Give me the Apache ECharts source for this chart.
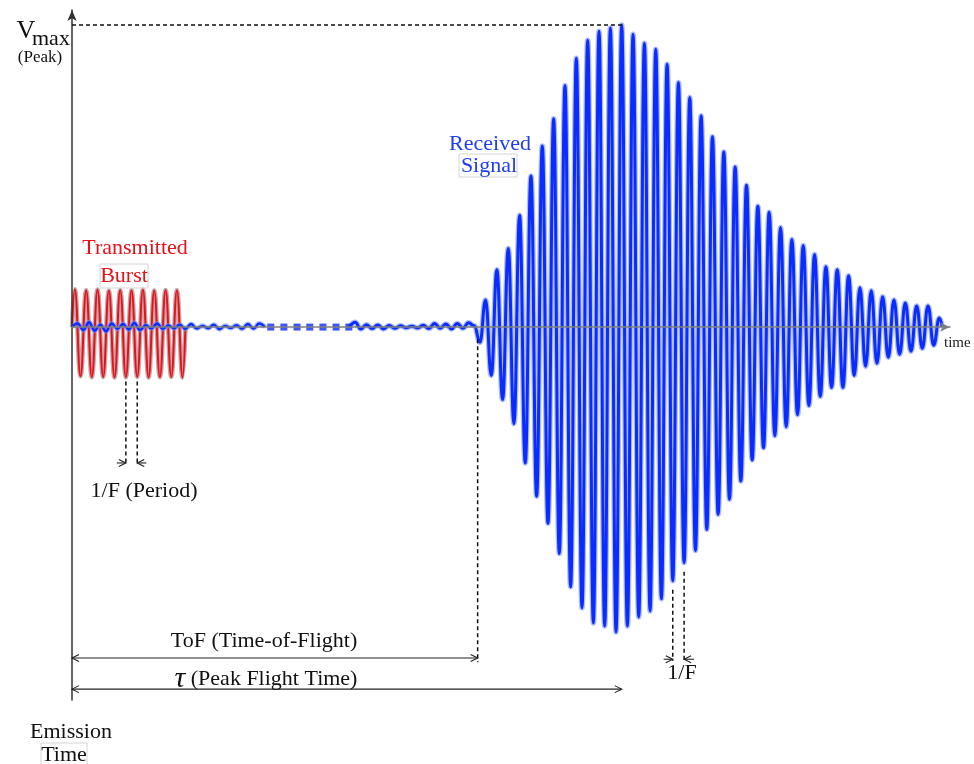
<!DOCTYPE html>
<html>
<head>
<meta charset="utf-8">
<title>Ultrasonic burst and received echo</title>
<script src="https://cdn.jsdelivr.net/npm/echarts@6/dist/echarts.min.js"></script>
<style>
  html, body { margin: 0; padding: 0; background: #ffffff; }
  #chart { width: 974px; height: 764px; }
</style>
</head>
<body>
<div id="chart"></div>
<script>
// ---- Time base (µs): 40 kHz carrier, extremes every half period ----
const HALF_PERIOD = 12.5;
const TIME_MAX = 1935;

// Transmitted burst: alternating crest / trough amplitudes (normalised to Vmax)
const TX_START = 6.25;
const TX_EXTREMES = [0.125, -0.163, 0.122, -0.166, 0.124, -0.165, 0.121, -0.167, 0.123, -0.166,
                     0.122, -0.165, 0.124, -0.167, 0.121, -0.166, 0.123, -0.165, 0.122, -0.167];

// Background noise on the receiver before the echo arrives
const NOISE_A = [0, 0.012, -0.010, 0.016, -0.012, 0.008, -0.014, 0.012, -0.006, 0.010, -0.008, 0.014,
                 -0.010, 0.006, -0.004, 0.012, -0.006, 0.005, -0.004, 0.008, -0.006, 0.010, -0.005,
                 0.004, -0.004, 0.008, -0.007, 0.004, -0.003, 0.006, -0.006, 0.010, -0.005, 0.012, 0];
const NOISE_B_START = 611.5;
const NOISE_B = [0, 0.016, -0.006, 0.008, -0.005, 0.007, -0.006, 0.005, -0.004, 0.004, -0.002, 0.003,
                 -0.003, 0.006, -0.005, 0.012, -0.004, 0.010, -0.006, 0.012, -0.004, 0.014, 0.004];

// Time gap marker (skipped stretch of the noise floor)
const GAP_MARKS = [438, 467, 496, 524, 553, 582, 610];

// Received echo: trough depths and crest heights, one pair per carrier cycle
const RX_START = 899;
const RX_TROUGHS = [0.05, 0.16, 0.24, 0.32, 0.45, 0.56, 0.65, 0.75, 0.86, 0.93, 0.98, 0.99, 1.01, 0.99,
                    0.96, 0.94, 0.90, 0.84, 0.78, 0.74, 0.67, 0.62, 0.57, 0.51, 0.44, 0.40, 0.36, 0.33,
                    0.29, 0.26, 0.23, 0.20, 0.20, 0.16, 0.13, 0.12, 0.10, 0.09, 0.08, 0.07, 0.06];
const RX_PEAKS   = [0.09, 0.19, 0.26, 0.37, 0.50, 0.60, 0.69, 0.80, 0.89, 0.95, 0.98, 0.99, 1.00, 0.97,
                    0.94, 0.92, 0.87, 0.81, 0.76, 0.70, 0.63, 0.58, 0.53, 0.47, 0.40, 0.38, 0.33, 0.29,
                    0.27, 0.24, 0.20, 0.19, 0.17, 0.13, 0.12, 0.10, 0.09, 0.08, 0.07, 0.07, 0.03];

// Key instants (µs)
const TOF = 894;          // first arrival of the echo
const V_MAX = 1.0;

// ---- Build series data ----
const txData = [[0, 0]];
TX_EXTREMES.forEach((v, i) => txData.push([TX_START + i * HALF_PERIOD, v]));
txData.push([TX_START + (TX_EXTREMES.length - 0.5) * HALF_PERIOD, 0]);

const noiseAData = NOISE_A.map((v, i) => [i * HALF_PERIOD, v]);

const rxData = NOISE_B.map((v, i) => [NOISE_B_START + i * HALF_PERIOD, v]);
RX_TROUGHS.forEach((d, i) => {
  rxData.push([RX_START + (2 * i) * HALF_PERIOD, -d]);
  rxData.push([RX_START + (2 * i + 1) * HALF_PERIOD, RX_PEAKS[i]]);
});
const rxEnd = RX_START + (2 * RX_TROUGHS.length - 0.5) * HALF_PERIOD;
rxData.push([rxEnd, 0]);

// Peak flight time: instant of the largest crest
let peakIdx = 0;
RX_PEAKS.forEach((v, i) => { if (v > RX_PEAKS[peakIdx]) peakIdx = i; });
const TAU = RX_START + (2 * peakIdx + 1) * HALF_PERIOD;

// Periods marked on the burst and on the echo (two successive troughs)
const TX_PERIOD_A = TX_START + 9 * HALF_PERIOD;
const TX_PERIOD_B = TX_START + 11 * HALF_PERIOD;
const RX_PERIOD_A = RX_START + 34 * HALF_PERIOD;
const RX_PERIOD_B = RX_START + 36 * HALF_PERIOD;

const SERIF = "'Liberation Serif', 'Times New Roman', 'DejaVu Serif', serif";
const BLUE = '#0a2cff';
const RED = '#e8101a';

const chart = echarts.init(document.getElementById('chart'), null, { renderer: 'canvas' });

chart.setOption({
  animation: false,
  backgroundColor: '#ffffff',
  grid: { left: 72, right: 24, top: 10, bottom: 64 },
  xAxis: {
    type: 'value', min: 0, max: TIME_MAX, z: 10,
    name: 'time', nameLocation: 'end', nameGap: -6,
    nameTextStyle: { fontFamily: SERIF, fontSize: 15, color: '#222', align: 'left',
                     verticalAlign: 'top', padding: [8, 0, 0, 0] },
    axisLine: { onZero: true, symbol: ['none', 'arrow'], symbolSize: [7, 10],
                lineStyle: { color: '#808080', width: 1.6 } },
    axisTick: { show: false }, axisLabel: { show: false }, splitLine: { show: false }
  },
  yAxis: {
    type: 'value', min: -1.235, max: 1.05, z: 10,
    axisLine: { show: true, symbol: ['none', 'arrow'], symbolSize: [7, 11],
                lineStyle: { color: '#333333', width: 1.5 } },
    axisTick: { show: false }, axisLabel: { show: false }, splitLine: { show: false }
  },
  series: [
    { name: 'burst-halo', type: 'line', data: txData, smooth: 0.45, smoothMonotone: 'x',
      showSymbol: false, silent: true, z: 2,
      lineStyle: { color: 'rgba(150,95,95,0.55)', width: 4.5 } },
    { name: 'Transmitted Burst', type: 'line', data: txData, smooth: 0.45, smoothMonotone: 'x',
      showSymbol: false, z: 3, lineStyle: { color: RED, width: 2 } },
    { name: 'noise-halo', type: 'line', data: noiseAData, smooth: 0.45, smoothMonotone: 'x',
      showSymbol: false, silent: true, z: 4,
      lineStyle: { color: 'rgba(120,145,255,0.6)', width: 5 } },
    { name: 'Noise', type: 'line', data: noiseAData, smooth: 0.45, smoothMonotone: 'x',
      showSymbol: false, z: 5, lineStyle: { color: BLUE, width: 2.4 } },
    { name: 'echo-halo', type: 'line', data: rxData, smooth: 0.45, smoothMonotone: 'x',
      showSymbol: false, silent: true, z: 4,
      lineStyle: { color: 'rgba(120,145,255,0.6)', width: 5.5 } },
    { name: 'Received Signal', type: 'line', data: rxData, smooth: 0.45, smoothMonotone: 'x',
      showSymbol: false, z: 5, lineStyle: { color: BLUE, width: 3 } },
    { name: 'gap', type: 'scatter', data: GAP_MARKS.map(t => [t, 0]), symbol: 'rect',
      symbolSize: 7, z: 6, itemStyle: { color: BLUE } }
  ]
});

// ---- Annotations placed through the axis scales ----
const P = (t, v) => chart.convertToPixel({ gridIndex: 0 }, [t, v]);
const INK = '#222222';

function dashed(a, b) {
  return { type: 'line', z: 20, shape: { x1: a[0], y1: a[1], x2: b[0], y2: b[1] },
           style: { stroke: '#111', lineWidth: 1.5, lineDash: [4, 3] } };
}
function solid(a, b) {
  return { type: 'line', z: 20, shape: { x1: a[0], y1: a[1], x2: b[0], y2: b[1] },
           style: { stroke: INK, lineWidth: 1.1 } };
}
function head(p, dir) {
  return { type: 'polyline', z: 20,
           shape: { points: [[p[0] - dir * 7, p[1] - 3.5], [p[0], p[1]], [p[0] - dir * 7, p[1] + 3.5]] },
           style: { stroke: INK, lineWidth: 1.1, fill: null } };
}
function label(text, x, y, color, size, extra) {
  return Object.assign({ type: 'text', z: 30, x: x, y: y,
    style: { text: text, fill: color || '#111', font: (size || 22) + 'px ' + SERIF,
             textAlign: 'center', textVerticalAlign: 'middle' } }, extra || {});
}
function box(x, y, w, h) {
  return { type: 'rect', z: 25, shape: { x: x, y: y, width: w, height: h },
           style: { fill: null, stroke: '#d4d4d4', lineWidth: 1 } };
}

const els = [];
// Vmax reference line
els.push(dashed(P(0, V_MAX), P(TAU, V_MAX)));
// Time-of-flight marker
const yTof = -1.096, yTau = -1.199;
els.push(dashed(P(TOF, -0.04), P(TOF, -1.11)));
els.push(solid(P(0, yTof), P(TOF, yTof)), head(P(0, yTof), -1), head(P(TOF, yTof), 1));
// Peak flight time marker
els.push(solid(P(0, yTau), P(TAU, yTau)), head(P(0, yTau), -1), head(P(TAU, yTau), 1));
// Period of the burst
const yTxArr = -0.45;
els.push(dashed(P(TX_PERIOD_A, -0.18), P(TX_PERIOD_A, -0.455)));
els.push(dashed(P(TX_PERIOD_B, -0.18), P(TX_PERIOD_B, -0.455)));
els.push(solid(P(TX_PERIOD_A - 20, yTxArr), P(TX_PERIOD_A, yTxArr)), head(P(TX_PERIOD_A, yTxArr), 1));
els.push(solid(P(TX_PERIOD_B + 20, yTxArr), P(TX_PERIOD_B, yTxArr)), head(P(TX_PERIOD_B, yTxArr), -1));
// Period of the echo
const yRxArr = -1.100;
els.push(dashed(P(RX_PERIOD_A, -0.87), P(RX_PERIOD_A, -1.105)));
els.push(dashed(P(RX_PERIOD_B, -0.81), P(RX_PERIOD_B, -1.105)));
els.push(solid(P(RX_PERIOD_A - 20, yRxArr), P(RX_PERIOD_A, yRxArr)), head(P(RX_PERIOD_A, yRxArr), 1));
els.push(solid(P(RX_PERIOD_B + 22, yRxArr), P(RX_PERIOD_B, yRxArr)), head(P(RX_PERIOD_B, yRxArr), -1));

// Text
els.push(label('V', 26, 31, '#111', 26));
els.push({ type: 'text', z: 30, x: 32, y: 39,
           style: { text: 'max', fill: '#111', font: '22px ' + SERIF, textAlign: 'left', textVerticalAlign: 'middle' } });
els.push(label('(Peak)', 40, 58, '#111', 17));
els.push(label('Transmitted', 135, 248, RED));
els.push(label('Burst', 124, 276, RED));
els.push(box(100, 264, 48, 24));
els.push(label('Received', 490, 144, '#1e3ef0'));
els.push(label('Signal', 489, 166, '#1e3ef0'));
els.push(box(459, 154, 58, 23));
els.push(label('ToF (Time-of-Flight)', 264, 641, '#111'));
els.push({ type: 'text', z: 30, x: 266, y: 679,
           style: { text: '{t|τ} (Peak Flight Time)', fill: '#111', font: '22px ' + SERIF,
                    textAlign: 'center', textVerticalAlign: 'middle',
                    rich: { t: { fontSize: 30, fontStyle: 'italic', fontFamily: SERIF, fill: '#111' } } } });
els.push(label('1/F (Period)', 144, 491, '#111'));
els.push(label('1/F', 682, 673, '#111'));
els.push(label('Emission', 71, 732, '#111'));
els.push(label('Time', 64, 755, '#111'));
els.push(box(41, 743, 46, 22));

chart.setOption({ graphic: { elements: els } });
</script>
</body>
</html>
